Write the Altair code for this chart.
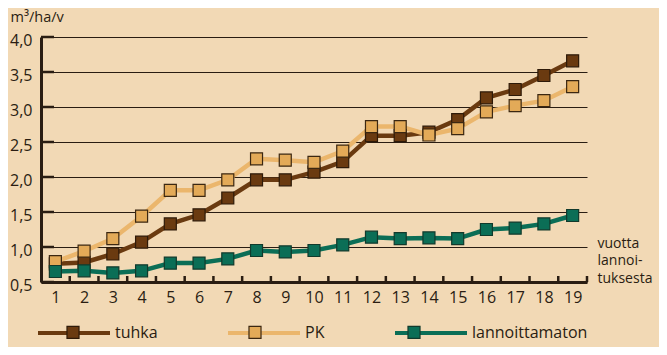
import altair as alt
import pandas as pd

years = list(range(1, 20))
tuhka = [0.76, 0.78, 0.90, 1.07, 1.33, 1.46, 1.70, 1.96, 1.96, 2.07,
         2.22, 2.59, 2.59, 2.64, 2.82, 3.13, 3.25, 3.45, 3.66]
pk = [0.79, 0.94, 1.12, 1.44, 1.81, 1.81, 1.96, 2.26, 2.24, 2.21,
      2.37, 2.72, 2.72, 2.60, 2.69, 2.93, 3.02, 3.09, 3.29]
lannoittamaton = [0.65, 0.66, 0.63, 0.66, 0.77, 0.77, 0.83, 0.95, 0.93, 0.95,
                  1.03, 1.14, 1.12, 1.13, 1.12, 1.25, 1.27, 1.33, 1.45]
series_names = ["tuhka", "PK", "lannoittamaton"]
y_tick_values = [0.5, 1.0, 1.5, 2.0, 2.5, 3.0, 3.5, 4.0]
x_axis_title = ["vuotta", "lannoi-", "tuksesta"]
y_axis_title = "m³/ha/v"

line_colors = ["#6a3a10", "#ebb66c", "#0b6e56"]
fill_colors = ["#6a3a10", "#e3aa58", "#0b6e56"]
edge_colors = ["#2e1a08", "#3b2711", "#113a2c"]
ink = "#2a1d12"
bg = "#f2d9b5"
FONT = "Open Sans"

marker_names = [n + "*" for n in series_names]

rows = []
for name, vals in zip(series_names, [tuhka, pk, lannoittamaton]):
    for yr, v in zip(years, vals):
        rows.append({"vuosi": yr, "arvo": v, "sarja": name, "merkki": name + "*"})
df = pd.DataFrame(rows)

W, H = 546, 245

xscale = alt.Scale(domain=[0.5, 19.5], nice=False, zero=False)
yscale = alt.Scale(domain=[0.5, 4.0], nice=False, zero=False)

x_axis = alt.Axis(values=years, format="d", ticks=False, grid=False,
                  domainWidth=3, domainColor=ink, labelFontSize=16, labelFont=FONT,
                  labelColor=ink, labelPadding=7, labelOverlap=False, labelFlush=False,
                  title=x_axis_title, titleX=556, titleY=-39, titleAlign="left",
                  titleBaseline="middle", titleFontSize=14, titleFont=FONT,
                  titleFontWeight="normal", titleLineHeight=17.5, titleAngle=0,
                  titleColor=ink)
y_axis = alt.Axis(values=y_tick_values,
                  labelExpr="replace(format(datum.value, '.1f'), '.', ',')",
                  ticks=False, grid=True, gridColor=ink, gridWidth=1,
                  domainWidth=3, domainColor=ink, labelPadding=9, labelOffset=3,
                  labelFontSize=16, labelFont=FONT, labelColor=ink,
                  title=y_axis_title, titleAngle=0, titleX=-31, titleY=-20,
                  titleAlign="left", titleBaseline="middle", titleFontSize=14.5,
                  titleFont=FONT, titleFontWeight="normal", titleColor=ink)

base = alt.Chart(df)

LEG_Y = 258
# the marker legend shares the line legend's layout (same label widths); it is
# shifted up so its hidden labels sit in empty space, and its squares are drawn
# back down onto the legend lines.
SHIFT = -281
legend_common = dict(orient="none", legendX=-5, direction="horizontal",
                     title=None, symbolSize=5184, labelFontSize=16, labelFont=FONT,
                     labelOffset=3, columnPadding=62, labelLimit=300, padding=0)

lines = base.mark_line(strokeWidth=4.5).encode(
    x=alt.X("vuosi:Q", scale=xscale, axis=x_axis),
    y=alt.Y("arvo:Q", scale=yscale, axis=y_axis),
    color=alt.Color("sarja:N", scale=alt.Scale(domain=series_names, range=line_colors),
                    sort=series_names,
                    legend=alt.Legend(symbolType="stroke", symbolStrokeWidth=4,
                                      labelColor=ink, legendY=LEG_Y, **legend_common)),
    detail="sarja:N",
)

half = 36.0
sq = 6.0 / half
dy = -SHIFT / half
square_path = (f"M{-sq:.3f},{dy - sq:.3f}H{sq:.3f}V{dy + sq:.3f}H{-sq:.3f}Z")
points = base.mark_square(size=144, strokeWidth=1.2, filled=True, opacity=1).encode(
    x=alt.X("vuosi:Q", scale=xscale, axis=x_axis),
    y=alt.Y("arvo:Q", scale=yscale, axis=y_axis),
    fill=alt.Fill("merkki:N", scale=alt.Scale(domain=marker_names, range=fill_colors),
                  sort=marker_names,
                  legend=alt.Legend(symbolType=square_path, symbolStrokeWidth=1.2,
                                    symbolStrokeColor="#2e1a08", symbolOpacity=1,
                                    labelOpacity=0, labelColor=bg,
                                    labelExpr="replace(datum.label, '*', '')",
                                    legendY=LEG_Y + SHIFT, **legend_common)),
    stroke=alt.Stroke("merkki:N", scale=alt.Scale(domain=marker_names, range=edge_colors),
                      legend=None),
)

ytick_df = pd.DataFrame({"t": y_tick_values})
yticks = alt.Chart(ytick_df).mark_rule(color=ink, strokeWidth=2.5).encode(
    y=alt.Y("t:Q", scale=yscale, axis=y_axis),
    x=alt.value(0), x2=alt.value(13),
)

xtick_df = pd.DataFrame({"t": [y + 0.5 for y in years]})
xticks = alt.Chart(xtick_df).mark_rule(color=ink, strokeWidth=2.5).encode(
    x=alt.X("t:Q", scale=xscale, axis=x_axis),
    y=alt.value(H), y2=alt.value(H - 6),
)

chart = alt.layer(lines, yticks, xticks, points).properties(
    width=W, height=H,
    padding={"left": 33, "top": 29, "right": 72, "bottom": 65},
    autosize=alt.AutoSizeParams(type="none"),
).configure(background=bg, font=FONT).configure_view(strokeOpacity=0)

chart.save("out.html", embed_options={"renderer": "svg", "actions": False})
